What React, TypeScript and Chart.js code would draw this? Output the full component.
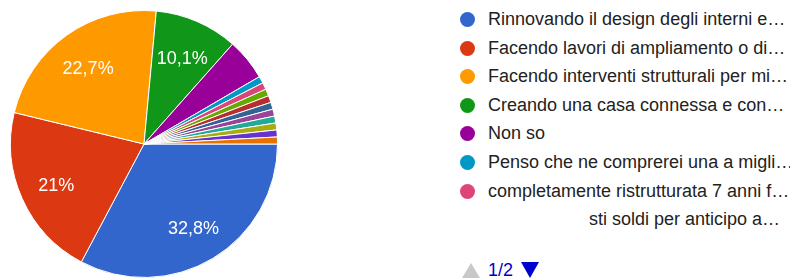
import React, { useEffect, useRef } from "react";
import { Chart, registerables } from "chart.js";

Chart.register(...registerables);

const labels = [
  "Rinnovando il design degli interni e…",
  "Facendo lavori di ampliamento o di…",
  "Facendo interventi strutturali per mi…",
  "Creando una casa connessa e con…",
  "Non so",
  "Penso che ne comprerei una a migli…",
  "completamente ristrutturata 7 anni f…",
  "Altro 8",
  "Altro 9",
  "Altro 10",
  "Altro 11",
  "Altro 12",
  "Altro 13",
  "Altro 14",
  "Altro 15",
];
const values = [39, 25, 27, 12, 6, 1, 1, 1, 1, 1, 1, 1, 1, 1, 1];
const colors = [
  "#3366cc", "#dc3912", "#ff9900", "#109618", "#990099",
  "#0099c6", "#dd4477", "#66aa00", "#b82e2e", "#316395",
  "#994499", "#22aa99", "#aaaa11", "#6633cc", "#e67300",
];
const percentLabels = ["32,8%", "21%", "22,7%", "10,1%"];
const legendShown = 7;
const extraLegendLine = "sti soldi per anticipo a…";
const pageText = "1/2";

const FONT = "Arial, 'Liberation Sans', sans-serif";

const sliceLabelPlugin = {
  id: "sliceLabels",
  afterDatasetsDraw(chart: any) {
    const meta = chart.getDatasetMeta(0);
    const ctx = chart.ctx;
    ctx.save();
    ctx.fillStyle = "#ffffff";
    ctx.font = "18px " + FONT;
    ctx.textAlign = "center";
    ctx.textBaseline = "middle";
    meta.data.forEach((arc: any, i: number) => {
      const txt = percentLabels[i];
      if (!txt) return;
      const mid = (arc.startAngle + arc.endAngle) / 2;
      const r = arc.outerRadius * 0.72;
      ctx.fillText(txt, arc.x + Math.cos(mid) * r, arc.y + Math.sin(mid) * r + 3);
    });
    ctx.restore();
  },
};

export default function App() {
  const ref = useRef<HTMLCanvasElement>(null);
  useEffect(() => {
    if (!ref.current) return;
    const chart = new Chart(ref.current, {
      type: "pie",
      data: {
        labels,
        datasets: [
          {
            data: values,
            backgroundColor: colors,
            borderColor: "#ffffff",
            borderWidth: 1,
          },
        ],
      },
      options: {
        responsive: false,
        animation: false,
        rotation: 90,
        layout: { padding: 10 },
        plugins: { legend: { display: false }, tooltip: { enabled: false } },
      },
      plugins: [sliceLabelPlugin],
    });
    return () => chart.destroy();
  }, []);

  const rowTop = (i: number) => 19.5 + i * 28.6;

  return (
    <div
      style={{
        position: "absolute",
        left: 0,
        top: 0,
        width: 790,
        height: 279,
        overflow: "hidden",
        background: "#fff",
        fontFamily: FONT,
      }}
    >
      <canvas
        ref={ref}
        width={288}
        height={288}
        style={{ position: "absolute", left: 0, top: 0, width: 288, height: 288 }}
      />
      {labels.slice(0, legendShown).map((l, i) => (
        <div
          key={i}
          style={{
            position: "absolute",
            left: 460,
            top: rowTop(i) - 12,
            height: 24,
            display: "flex",
            alignItems: "center",
            whiteSpace: "nowrap",
          }}
        >
          <span
            style={{
              display: "inline-block",
              width: 15,
              height: 15,
              borderRadius: 8,
              background: colors[i],
              marginRight: 13,
            }}
          />
          <span style={{ fontSize: 18, color: "#222" }}>{l}</span>
        </div>
      ))}
      <div
        style={{
          position: "absolute",
          right: 10,
          top: rowTop(7) - 12,
          height: 24,
          display: "flex",
          alignItems: "center",
          whiteSpace: "nowrap",
          fontSize: 18,
          color: "#222",
        }}
      >
        {extraLegendLine}
      </div>
      <div
        style={{
          position: "absolute",
          left: 462,
          top: 260,
          height: 20,
          display: "flex",
          alignItems: "center",
          whiteSpace: "nowrap",
        }}
      >
        <span
          style={{
            width: 0,
            height: 0,
            borderLeft: "9px solid transparent",
            borderRight: "9px solid transparent",
            borderBottom: "15px solid #c8c8c8",
            marginRight: 8,
          }}
        />
        <span style={{ fontSize: 18, color: "#0000cc", marginRight: 8 }}>{pageText}</span>
        <span
          style={{
            width: 0,
            height: 0,
            borderLeft: "9px solid transparent",
            borderRight: "9px solid transparent",
            borderTop: "16px solid #0000cc",
          }}
        />
      </div>
    </div>
  );
}
